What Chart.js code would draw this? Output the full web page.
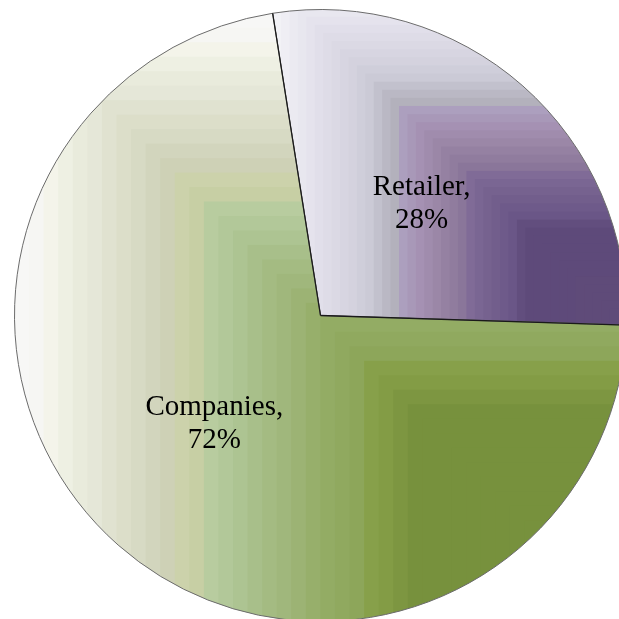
<!DOCTYPE html>
<html>
<head>
<meta charset="utf-8">
<script src="https://cdn.jsdelivr.net/npm/chart.js@4/dist/chart.umd.min.js"></script>
<style>
  html, body { margin: 0; padding: 0; background: #fff; overflow: hidden; }
  #wrap { width: 619px; height: 619px; overflow: hidden; position: relative; }
  canvas { position: absolute; left: 0; top: 0; }
</style>
</head>
<body>
<div id="wrap"><canvas id="pie" width="640" height="640"></canvas></div>
<script>
const categories = ["Retailer", "Companies"];
const shares = [28, 72];

// rectangular "from corner" fills, t = 1 far edge .. 0 bottom-right corner
const purpleStops = [
  [1.0, "#F4F4F7"], [0.875, "#E2E0EB"], [0.78, "#D5D3DF"], [0.727, "#CBCAD6"],
  [0.685, "#BCBAC6"], [0.642, "#AFADB8"], [0.636, "#ADA0BF"], [0.585, "#A591B3"],
  [0.528, "#9985A5"], [0.47, "#8C789B"], [0.435, "#7E6996"], [0.378, "#73608D"],
  [0.32, "#6A5687"], [0.287, "#5E4A7A"], [0.0, "#5F4B79"],
];
const greenStops = [
  [1.0, "#F8F8F8"], [0.965, "#F6F6F3"], [0.935, "#F3F4E8"], [0.895, "#E9EBDC"],
  [0.86, "#E4E5D6"], [0.835, "#DEE0CC"], [0.79, "#D6D9C2"], [0.755, "#CED1B8"],
  [0.725, "#CCD2AA"], [0.70, "#C6CFA3"], [0.68, "#B8CC9F"], [0.645, "#AFC797"],
  [0.62, "#ABC28E"], [0.59, "#A5BC84"], [0.555, "#9FB67B"], [0.515, "#98B06C"],
  [0.485, "#92AB63"], [0.44, "#8DA65A"], [0.415, "#87A049"], [0.38, "#809943"],
  [0.35, "#77913D"], [0.0, "#77913D"],
];
const sliceStops = [purpleStops, greenStops];
const fillStretchY = [1.08, 1.0];
const labelNudge = [[0, 2], [-5, -8]];

function hex(c) {
  return [1, 3, 5].map((i) => parseInt(c.slice(i, i + 2), 16));
}

function colorAt(stops, t) {
  for (let i = 0; i < stops.length - 1; i++) {
    const [t0, c0] = stops[i];
    const [t1, c1] = stops[i + 1];
    if (t <= t0 && t >= t1) {
      const f = t0 === t1 ? 0 : (t0 - t) / (t0 - t1);
      const a = hex(c0), b = hex(c1);
      return "rgb(" + a.map((v, k) => Math.round(v + (b[k] - v) * f)).join(",") + ")";
    }
  }
  return t > 1 ? stops[0][1] : stops[stops.length - 1][1];
}

function arcBox(el) {
  const pts = [[el.x, el.y]];
  const add = (a) => pts.push([el.x + el.outerRadius * Math.cos(a), el.y + el.outerRadius * Math.sin(a)]);
  add(el.startAngle);
  add(el.endAngle);
  for (let k = -4; k <= 8; k++) {
    const a = (k * Math.PI) / 2;
    if (a > el.startAngle && a < el.endAngle) add(a);
  }
  const xs = pts.map((p) => p[0]), ys = pts.map((p) => p[1]);
  return { left: Math.min(...xs), top: Math.min(...ys), right: Math.max(...xs), bottom: Math.max(...ys) };
}

function makePattern(chart, stops, box, stretch) {
  const off = document.createElement("canvas");
  off.width = chart.canvas.width;
  off.height = chart.canvas.height;
  const g = off.getContext("2d");
  const w = box.right - box.left, h = (box.bottom - box.top) * stretch;
  const steps = 42;
  g.fillStyle = stops[0][1];
  g.fillRect(0, 0, off.width, off.height);
  for (let s = steps; s >= 1; s--) {
    const t = s / steps;
    g.fillStyle = colorAt(stops, t - 0.5 / steps);
    const x = box.right - t * w, y = box.bottom - t * h;
    g.fillRect(x, y, off.width - x, off.height - y);
  }
  return chart.ctx.createPattern(off, "no-repeat");
}

const cornerFill = {
  id: "cornerFill",
  beforeDatasetsDraw(chart) {
    chart.getDatasetMeta(0).data.forEach((el, i) => {
      el.options.backgroundColor = makePattern(chart, sliceStops[i], arcBox(el), fillStretchY[i]);
    });
  },
  afterDatasetsDraw(chart) {
    const ctx = chart.ctx;
    const arcs = chart.getDatasetMeta(0).data;
    const total = shares.reduce((a, b) => a + b, 0);
    ctx.save();
    ctx.strokeStyle = "#1a1a1a";
    ctx.lineWidth = 1.3;
    arcs.forEach((el) => {
      ctx.beginPath();
      ctx.moveTo(el.x, el.y);
      ctx.lineTo(el.x + el.outerRadius * Math.cos(el.startAngle), el.y + el.outerRadius * Math.sin(el.startAngle));
      ctx.stroke();
    });
    ctx.fillStyle = "#000";
    ctx.font = '29px "Liberation Serif", "Times New Roman", serif';
    ctx.textAlign = "center";
    ctx.textBaseline = "middle";
    arcs.forEach((el, i) => {
      const p = el.tooltipPosition();
      const x = p.x + labelNudge[i][0], y = p.y + labelNudge[i][1];
      const pct = Math.round((shares[i] / total) * 100) + "%";
      ctx.fillText(categories[i] + ",", x, y - 15);
      ctx.fillText(pct, x, y + 18);
    });
    ctx.restore();
  },
};

new Chart(document.getElementById("pie"), {
  type: "pie",
  data: {
    labels: categories,
    datasets: [
      {
        data: shares,
        backgroundColor: ["#8064A2", "#9BBB59"],
        borderColor: "#6b6b6b",
        borderWidth: 1,
      },
    ],
  },
  options: {
    responsive: false,
    animation: false,
    rotation: -9,
    layout: { padding: { left: 14, top: 9, right: 13, bottom: 18 } },
    plugins: {
      legend: { display: false },
      tooltip: { enabled: false },
    },
  },
  plugins: [cornerFill],
});
</script>
</body>
</html>
